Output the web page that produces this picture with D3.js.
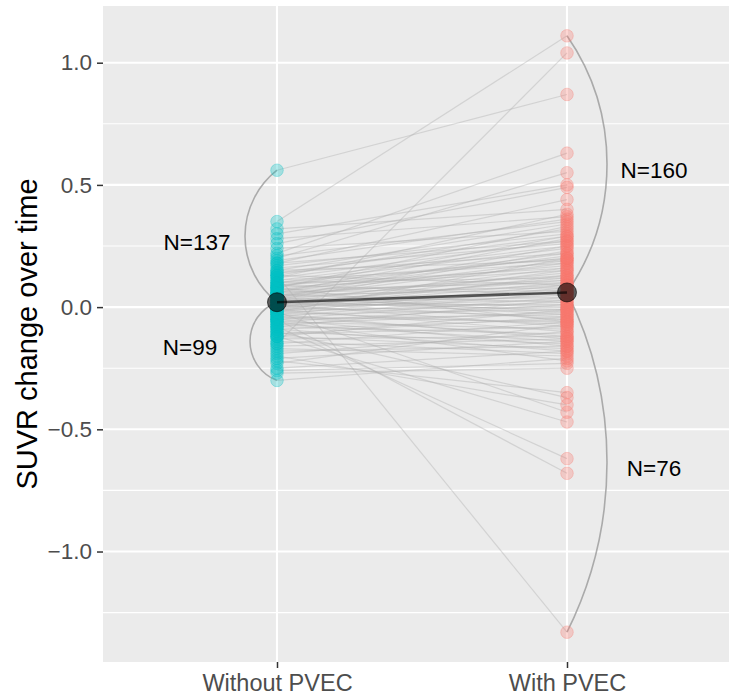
<!DOCTYPE html>
<html>
<head>
<meta charset="utf-8">
<script src="https://cdn.jsdelivr.net/npm/d3@7"></script>
<style>
  body { margin: 0; background: #fff; }
  text { font-family: "Liberation Sans", Arial, sans-serif; }
</style>
</head>
<body>
<svg id="vis" width="729" height="700"></svg>
<script>
// categories on the x axis
const categories = ['Without PVEC', 'With PVEC']

// paired SUVR changes, one entry per subject
const withoutPvec = [
  0.56, 0.35, -0.15, 0.13, 0.22, 0.20, 0.30, 0.26, 0.18, 0.32, 0.28,
  -0.08, -0.05, -0.12, -0.02, -0.20, -0.10, -0.22, -0.26, -0.30, -0.27, -0.25,
  0.17, 0.15, 0.14, 0.12, 0.11, 0.10, 0.10, 0.09, 0.08, 0.08,
  0.07, 0.07, 0.06, 0.06, 0.05, 0.05, 0.05, 0.04, 0.04, 0.04,
  0.03, 0.03, 0.03, 0.02, 0.02, 0.02, 0.02, 0.01, 0.01, 0.01,
  0.00, 0.00, 0.00, -0.01, -0.01, -0.01, -0.02, -0.02, -0.03, -0.03,
  -0.04, -0.04, -0.05, -0.05, -0.06, -0.07, -0.07, -0.08, -0.09, -0.10,
  -0.11, -0.12, -0.13, -0.14, -0.16, -0.18, 0.19, 0.16, 0.13, 0.09,
  0.06, 0.03, 0.00, -0.03, -0.06, -0.09, -0.11, 0.12, 0.08, 0.04,
  0.01, -0.02, -0.04, 0.24, 0.21, -0.19, -0.17, 0.05, 0.02, 0.07,
  0.14, 0.11, 0.09, -0.08, -0.15, 0.10, 0.06, 0.03, -0.01, -0.05,
  0.15, 0.18, -0.12, 0.00, -0.02, 0.08, 0.13, -0.06, -0.21, -0.23
]
const withPvec = [
  0.87, 1.11, 1.04, -1.33, 0.63, 0.55, 0.50, 0.49, 0.44, 0.40, 0.37,
  -0.62, -0.68, -0.47, -0.43, -0.40, -0.37, -0.35, -0.23, -0.21, -0.25, -0.18,
  0.30, 0.34, 0.22, 0.27, 0.18, 0.24, 0.12, 0.20, 0.15, 0.29,
  0.10, 0.17, 0.21, 0.08, 0.13, 0.02, 0.19, 0.09, 0.25, -0.02,
  0.06, 0.14, 0.00, 0.11, 0.04, -0.05, 0.16, 0.07, 0.01, -0.08,
  0.03, 0.10, -0.04, 0.05, -0.10, 0.00, 0.02, -0.07, -0.01, 0.08,
  -0.06, -0.12, -0.03, 0.04, -0.09, -0.14, -0.02, -0.11, -0.05, -0.15,
  -0.08, -0.17, -0.12, -0.19, -0.13, -0.16, 0.36, 0.26, 0.32, 0.05,
  0.28, 0.23, 0.15, -0.13, 0.01, -0.18, -0.04, 0.38, 0.33, 0.18,
  0.12, 0.09, 0.06, 0.31, 0.35, -0.10, -0.20, 0.07, -0.01, 0.22,
  0.29, 0.25, 0.16, 0.03, -0.06, 0.20, 0.11, -0.03, 0.13, -0.16,
  0.19, 0.27, -0.01, 0.06, 0.20, -0.06, 0.09, -0.22, -0.14, -0.07
]

// group means (big dark dots)
const groupMeans = [0.02, 0.06]

// counts written next to the curves
const arcLabels = ['N=137', 'N=99', 'N=160', 'N=76']

const yTicks = [-1.0, -0.5, 0.0, 0.5, 1.0]
const yMinorTicks = [-1.25, -0.75, -0.25, 0.25, 0.75]

const colors = ['#00BFC4', '#F8766D']

const margin = {left: 103, top: 6, right: -12, bottom: 38}
const W = 729, H = 700

const svg = d3.select('#vis')

// ggplot style expansion of 5%
const allVals = withoutPvec.concat(withPvec)
const ext = d3.extent(allVals)
const pad = (ext[1] - ext[0]) * 0.05

const y = d3.scaleLinear()
    .domain([ext[0] - pad, ext[1] + pad])
    .range([H - margin.bottom, margin.top])

const x = d3.scalePoint()
    .domain(categories)
    .range([margin.left, W - margin.right])
    .padding(0.6)

// panel background
svg.append('rect')
    .attr('x', margin.left)
    .attr('y', margin.top)
    .attr('width', W - margin.right - margin.left)
    .attr('height', H - margin.bottom - margin.top)
    .attr('fill', '#EBEBEB')

//grid lines
svg.selectAll('.minor')
    .data(yMinorTicks)
    .enter().append('line')
    .attr('class', 'minor')
    .attr('x1', margin.left).attr('x2', W - margin.right)
    .attr('y1', d => y(d)).attr('y2', d => y(d))
    .attr('stroke', '#fff').attr('stroke-width', 1.1)

svg.selectAll('.major')
    .data(yTicks)
    .enter().append('line')
    .attr('class', 'major')
    .attr('x1', margin.left).attr('x2', W - margin.right)
    .attr('y1', d => y(d)).attr('y2', d => y(d))
    .attr('stroke', '#fff').attr('stroke-width', 2.1)

svg.selectAll('.vmajor')
    .data(categories)
    .enter().append('line')
    .attr('class', 'vmajor')
    .attr('x1', d => x(d)).attr('x2', d => x(d))
    .attr('y1', margin.top).attr('y2', H - margin.bottom)
    .attr('stroke', '#fff').attr('stroke-width', 2.1)

// one gray line per subject
const pairs = withoutPvec.map((v, i) => [v, withPvec[i]])

svg.selectAll('.pair')
    .data(pairs)
    .enter().append('line')
    .attr('class', 'pair')
    .attr('x1', x(categories[0]))
    .attr('x2', x(categories[1]))
    .attr('y1', d => y(d[0]))
    .attr('y2', d => y(d[1]))
    .attr('stroke', '#b0b0b0')
    .attr('stroke-opacity', 0.42)
    .attr('stroke-width', 1.2)

// curved brackets from the mean to the extremes
function arcPath(xp, y0, y1, bulge, side) {
    let half = Math.abs(y1 - y0) / 2
    let r = (half * half + bulge * bulge) / (2 * bulge)
    // side -1 = bulge to the left
    let sweep = (y1 < y0) ? (side < 0 ? 1 : 0) : (side < 0 ? 0 : 1)
    return 'M' + xp + ',' + y0 + ' A' + r + ',' + r + ' 0 0 ' + sweep + ' ' + xp + ',' + y1
}

const leftVals = withoutPvec, rightVals = withPvec
const arcs = [
    {cat: 0, from: groupMeans[0], to: d3.max(leftVals), bulge: 32, side: -1, dx: -80},
    {cat: 0, from: groupMeans[0], to: d3.min(leftVals), bulge: 27, side: -1, dx: -87},
    {cat: 1, from: groupMeans[1], to: d3.max(rightVals), bulge: 40, side: 1, dx: 87},
    {cat: 1, from: groupMeans[1], to: d3.min(rightVals), bulge: 40, side: 1, dx: 87}
]

svg.selectAll('.arc')
    .data(arcs)
    .enter().append('path')
    .attr('class', 'arc')
    .attr('d', d => arcPath(x(categories[d.cat]), y(d.from), y(d.to), d.bulge, d.side))
    .attr('fill', 'none')
    .attr('stroke', '#9a9a9a')
    .attr('stroke-opacity', 0.8)
    .attr('stroke-width', 1.6)

svg.selectAll('.arcLabel')
    .data(arcs)
    .enter().append('text')
    .attr('class', 'arcLabel')
    .attr('x', d => x(categories[d.cat]) + d.dx)
    .attr('y', d => (y(d.from) + y(d.to)) / 2 + 6)
    .attr('text-anchor', 'middle')
    .attr('dominant-baseline', 'central')
    .attr('font-size', 22.5)
    .attr('fill', '#000')
    .text((d, i) => arcLabels[i])

// points
categories.forEach((cat, ci) => {
    let vals = ci === 0 ? withoutPvec : withPvec
    svg.selectAll('.pt' + ci)
        .data(vals)
        .enter().append('circle')
        .attr('class', 'pt' + ci)
        .attr('cx', x(cat))
        .attr('cy', d => y(d))
        .attr('r', 6.3)
        .attr('fill', colors[ci])
        .attr('fill-opacity', 0.3)
        .attr('stroke', colors[ci])
        .attr('stroke-opacity', 0.3)
        .attr('stroke-width', 1)
})

// mean line and mean points
svg.append('line')
    .attr('x1', x(categories[0])).attr('x2', x(categories[1]))
    .attr('y1', y(groupMeans[0])).attr('y2', y(groupMeans[1]))
    .attr('stroke', '#000').attr('stroke-opacity', 0.6).attr('stroke-width', 2.6)

svg.selectAll('.mean')
    .data(groupMeans)
    .enter().append('circle')
    .attr('class', 'mean')
    .attr('cx', (d, i) => x(categories[i]))
    .attr('cy', d => y(d))
    .attr('r', 9.5)
    .attr('fill', '#000').attr('fill-opacity', 0.6)
    .attr('stroke', '#000').attr('stroke-opacity', 0.6)

// axes
const yAxis = svg.append('g')
    .attr('transform', 'translate(' + margin.left + ',0)')
    .call(d3.axisLeft(y).tickValues(yTicks).tickFormat(d3.format('.1f')).tickSizeOuter(0).tickSize(6).tickPadding(5))
yAxis.select('.domain').remove()
yAxis.selectAll('line').attr('stroke', '#333').attr('stroke-width', 1.5)
yAxis.selectAll('text').attr('fill', '#4D4D4D').attr('font-size', 22.5)
    .attr('font-family', '"Liberation Sans", Arial, sans-serif')

const xAxis = svg.append('g')
    .attr('transform', 'translate(0,' + (H - margin.bottom) + ')')
    .call(d3.axisBottom(x).tickSizeOuter(0).tickSize(6).tickPadding(6))
xAxis.select('.domain').remove()
xAxis.selectAll('line').attr('stroke', '#333').attr('stroke-width', 1.5)
xAxis.selectAll('text').attr('fill', '#4D4D4D').attr('font-size', 23.5)
    .attr('font-family', '"Liberation Sans", Arial, sans-serif')

// y title
svg.append('text')
    .attr('transform', 'translate(37,' + ((margin.top + H - margin.bottom) / 2) + ') rotate(-90)')
    .attr('text-anchor', 'middle')
    .attr('font-size', 29)
    .attr('fill', '#000')
    .text('SUVR change over time')
</script>
</body>
</html>
